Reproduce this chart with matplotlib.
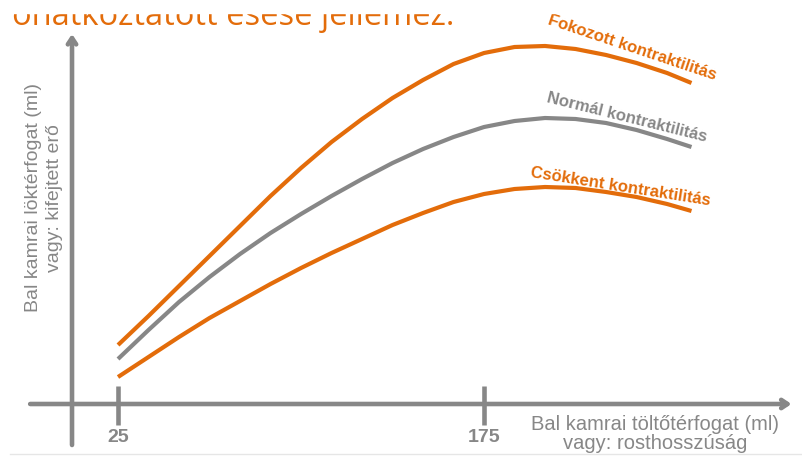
import matplotlib
matplotlib.use("Agg")
import matplotlib.pyplot as plt
from matplotlib.patches import Rectangle

# filling volume (ml) and the three curves (output, arbitrary units)
volume = [25, 37.5, 50, 62.5, 75, 87.5, 100, 112.5, 125, 137.5, 150,
          162.5, 175, 187.5, 200, 212.5, 225, 237.5, 250, 260]
fokozott = [59, 88, 118, 148, 178, 208, 236, 262, 285, 306, 324,
            340, 351, 357, 358, 355, 349, 341, 331, 321]
normal = [45, 74, 102, 127, 150, 171, 190, 208, 225, 241, 255,
          267, 277, 283, 286, 285, 281, 274, 265, 257]
csokkent = [27, 47, 67, 86, 103, 120, 136, 151, 165, 179, 191,
            202, 210, 215, 217, 216, 212, 207, 200, 193]

xticks = [25, 175]
curve_labels = ["Fokozott kontraktilitás", "Normál kontraktilitás",
                "Csökkent kontraktilitás"]

ORANGE = "#E36C0A"
GRAY = "#878787"
SANS = "Liberation Sans"

fig = plt.figure(figsize=(8.03, 4.57), dpi=100)
ax = fig.add_axes([0, 0, 1, 1])
ax.set_xlim(-23.36, 305.7)
ax.set_ylim(-53, 404)
ax.axis("off")

# axes with open arrow heads
arrow = dict(arrowstyle="->,head_length=0.45,head_width=0.3",
             lw=3.3, color=GRAY, shrinkA=0, shrinkB=0)
ax.annotate("", xy=(301, 0), xytext=(-11, 0), arrowprops=arrow)
ax.annotate("", xy=(6.15, 370), xytext=(6.15, -41), arrowprops=arrow)
for t in xticks:
    ax.plot([t, t], [-21, 18], color=GRAY, lw=3.3, solid_capstyle="butt")
    ax.text(t, -33, str(t), ha="center", va="center", color=GRAY,
            fontsize=14, fontweight="bold", family=SANS)

# curves
for ys, c in [(fokozott, ORANGE), (normal, GRAY), (csokkent, ORANGE)]:
    ax.plot(volume, ys, color=c, lw=3, solid_capstyle="butt",
            solid_joinstyle="round")

ax.text(235.7, 356, curve_labels[0], color=ORANGE, fontsize=12,
        fontweight="bold", rotation=-18.5, ha="center", va="center",
        rotation_mode="anchor", family=SANS)
ax.text(233.6, 286, curve_labels[1], color=GRAY, fontsize=12,
        fontweight="bold", rotation=-14, ha="center", va="center",
        rotation_mode="anchor", family=SANS)
ax.text(231.1, 217, curve_labels[2], color=ORANGE, fontsize=12,
        fontweight="bold", rotation=-9, ha="center", va="center",
        rotation_mode="anchor", family=SANS)

# axis labels
ax.text(245, -30, "Bal kamrai töltőtérfogat (ml)\nvagy: rosthosszúság",
        ha="center", va="center", color=GRAY, fontsize=14.5, family=SANS,
        linespacing=1.0)
ax.text(-5.3, 206, "Bal kamrai löktérfogat (ml)\nvagy: kifejtett erő",
        ha="center", va="center", color=GRAY, fontsize=14,
        family=SANS, rotation=90, linespacing=1.3)

# header text, cut off at the top
fig.text(0.015, 1 - 25 / 457, "ohatkoztatott esese jellemez.", color=ORANGE,
         fontsize=23.5, family="Open Sans", ha="left", va="baseline")
fig.patches.append(Rectangle((0, 1 - 13 / 457), 1, 13 / 457,
                             transform=fig.transFigure, color="white", zorder=10))

# faint rule at the bottom
fig.add_artist(plt.Line2D([10 / 803, 1], [1 - 454 / 457] * 2, color="#E6E6E6",
                          lw=1, transform=fig.transFigure))

fig.savefig("out.png", dpi=100)
